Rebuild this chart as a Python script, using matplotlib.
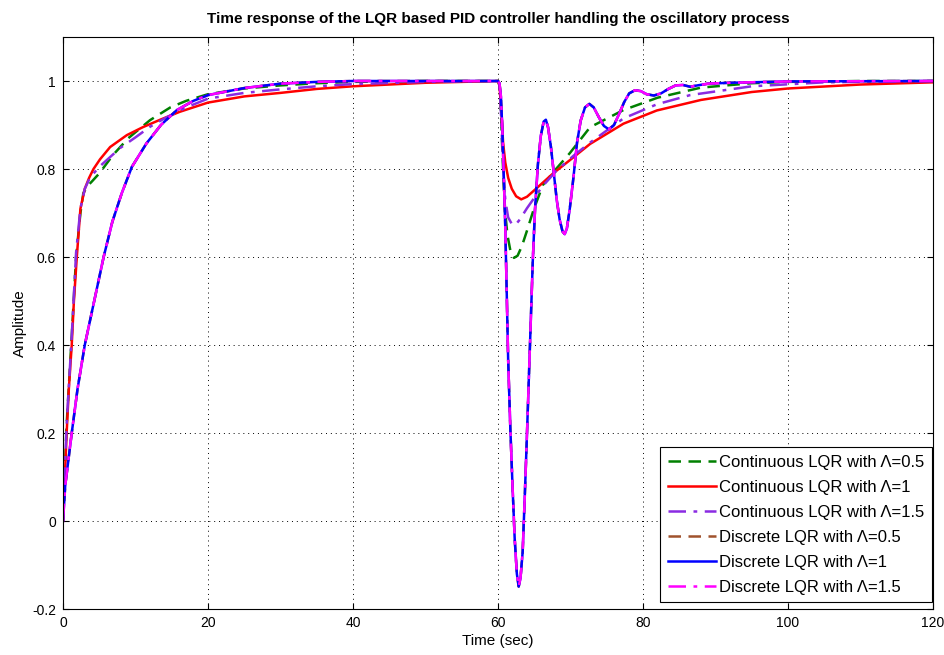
import matplotlib
matplotlib.use("Agg")
import matplotlib.pyplot as plt

plt.rcParams["font.family"] = ["Liberation Sans", "DejaVu Sans"]

# --- values ---

# continuous LQR, Lambda = 0.5 (green dashed)
cont_05_t = [0, 0.2, 0.5, 1.2, 1.8, 2.4, 2.8, 3.3, 4.0, 5.0, 6.9, 9, 12, 14.8, 17, 20, 25, 30, 35, 40, 50,
             60, 60.2, 60.4, 60.6, 60.8, 61.0, 61.3, 61.7, 62.2, 62.7, 63.3, 64.0, 64.9, 66.2, 68, 69.9,
             72.7, 77.3, 82, 88, 95, 100, 110, 120]
cont_05_y = [0, 0.09, 0.22, 0.42, 0.6, 0.70, 0.745, 0.76, 0.772, 0.79, 0.832, 0.87, 0.911, 0.94, 0.955, 0.97,
             0.983, 0.99, 0.995, 0.998, 1.0,
             1.0, 0.99, 0.93, 0.84, 0.76, 0.70, 0.65, 0.615, 0.598, 0.603, 0.625, 0.66, 0.707, 0.764, 0.80,
             0.836, 0.895, 0.934, 0.962, 0.985, 0.995, 0.998, 1.0, 1.0]

# continuous LQR, Lambda = 1 (red solid)
cont_1_t = [0, 0.2, 0.5, 0.8, 1.2, 1.5, 1.9, 2.4, 3.0, 3.6, 4.2, 5.1, 6.5, 8.8, 11, 13.4, 16.1, 20, 25, 30,
            35, 40, 50,
            60, 60.2, 60.5, 60.7, 61.0, 61.4, 61.9, 62.5, 63.2, 64.0, 65.3, 67.6, 69.9, 72.7, 77.3, 81.9,
            88, 95, 100, 110, 120]
cont_1_y = [0, 0.08, 0.2, 0.3, 0.4, 0.5, 0.6, 0.71, 0.755, 0.78, 0.80, 0.822, 0.85, 0.877, 0.895, 0.912,
            0.93, 0.951, 0.965, 0.973, 0.982, 0.988, 0.996,
            1.0, 0.99, 0.92, 0.86, 0.815, 0.78, 0.755, 0.738, 0.731, 0.737, 0.756, 0.79, 0.82, 0.857,
            0.903, 0.933, 0.957, 0.975, 0.983, 0.992, 0.997]

# continuous LQR, Lambda = 1.5 (purple dash-dot)
cont_15_t = [0, 0.2, 0.5, 1.2, 1.8, 2.4, 3.0, 3.7, 5.0, 7.9, 10, 12, 14, 17, 20, 25, 30, 35, 40, 50,
             60, 60.2, 60.4, 60.6, 60.8, 61.0, 61.4, 61.9, 62.4, 63.0, 64.0, 66.1, 68, 70.4, 72.7, 77.3,
             81.9, 86.5, 95, 105, 120]
cont_15_y = [0, 0.09, 0.22, 0.42, 0.61, 0.71, 0.755, 0.78, 0.805, 0.848, 0.872, 0.896, 0.915, 0.94, 0.96,
             0.973, 0.981, 0.988, 0.993, 0.998,
             1.0, 0.99, 0.93, 0.85, 0.78, 0.73, 0.69, 0.675, 0.673, 0.685, 0.711, 0.76, 0.795, 0.83, 0.86,
             0.915, 0.947, 0.968, 0.988, 0.997, 1.0]

# discrete LQR (Lambda = 0.5, 1 and 1.5 lie on top of each other)
disc_t = [0, 0.3, 1.2, 2.0, 3.0, 4.3, 5.6, 6.8, 8.1, 9.5, 11.5, 13.5, 15.7, 18, 20, 25, 30, 35, 40,
          60, 60.2, 60.4, 60.6, 60.8, 61.0, 61.2, 61.4, 61.7, 62.0, 62.3, 62.6, 62.85, 63.1, 63.4, 63.7,
          64.0, 64.4, 64.8, 65.1, 65.5, 65.9, 66.3, 66.6, 66.9, 67.3, 67.7, 68.1, 68.5, 68.9, 69.2, 69.5,
          69.9, 70.4, 70.9, 71.4, 72.0, 72.6, 73.2, 73.9, 74.6, 75.3, 76.0, 76.7, 77.4, 78.1, 78.9, 79.7,
          80.5, 81.5, 82.5, 83.5, 84.5, 85.5, 86.5, 87.5, 89, 92, 100, 120]
disc_y = [0, 0.08, 0.2, 0.3, 0.4, 0.5, 0.6, 0.68, 0.745, 0.805, 0.858, 0.9, 0.934, 0.955, 0.968, 0.984,
          0.994, 0.998, 1.0,
          1.0, 0.995, 0.965, 0.89, 0.78, 0.669, 0.52, 0.366, 0.21, 0.08, -0.04, -0.12, -0.149, -0.13,
          -0.07, 0.06, 0.2, 0.396, 0.593, 0.707, 0.81, 0.875, 0.908, 0.912, 0.895, 0.85, 0.79, 0.73,
          0.685, 0.658, 0.652, 0.665, 0.71, 0.78, 0.86, 0.91, 0.94, 0.948, 0.94, 0.918, 0.898, 0.89,
          0.90, 0.925, 0.952, 0.972, 0.979, 0.977, 0.97, 0.967, 0.972, 0.982, 0.99, 0.991, 0.987, 0.99,
          0.994, 0.996, 0.999, 1.0]

LAMBDA = "\u039b"
series = [
    (cont_05_t, cont_05_y, f"Continuous LQR with {LAMBDA}=0.5", "#008000", (0, (5, 3))),
    (cont_1_t, cont_1_y, f"Continuous LQR with {LAMBDA}=1", "#ff0000", "-"),
    (cont_15_t, cont_15_y, f"Continuous LQR with {LAMBDA}=1.5", "#8a2be2", (0, (7, 3, 1.5, 3))),
    (disc_t, disc_y, f"Discrete LQR with {LAMBDA}=0.5", "#a0522d", (0, (5, 3))),
    (disc_t, disc_y, f"Discrete LQR with {LAMBDA}=1", "#0000ff", "-"),
    (disc_t, disc_y, f"Discrete LQR with {LAMBDA}=1.5", "#ff00ff", (0, (7, 3, 1.5, 3))),
]

fig = plt.figure(figsize=(9.45, 6.55), dpi=100)
ax = fig.add_axes([0.0667, 0.0702, 0.9206, 0.8733])

for t, y, label, color, ls in series:
    ax.plot(t, y, color=color, linestyle=ls, linewidth=1.8, label=label)

ax.set_xlim(0, 120)
ax.set_ylim(-0.2, 1.1)
ax.set_xticks([0, 20, 40, 60, 80, 100, 120])
ax.set_yticks([-0.2, 0, 0.2, 0.4, 0.6, 0.8, 1])
ax.set_yticklabels(["-0.2", "0", "0.2", "0.4", "0.6", "0.8", "1"])
ax.tick_params(direction="in", labelsize=10, length=4, top=True, right=True, pad=5)
ax.grid(True, color="black", linestyle=(0, (1, 4)), linewidth=0.7)
for spine in ax.spines.values():
    spine.set_color("black")
    spine.set_linewidth(0.8)

ax.set_xlabel("Time (sec)", fontsize=11, labelpad=3)
ax.set_ylabel("Amplitude", fontsize=11)
ax.set_title("Time response of the LQR based PID controller handling the oscillatory process",
             fontsize=11, fontweight="bold", pad=10)

leg = ax.legend(loc="lower right", bbox_to_anchor=(1 - 1 / 870, 7 / 572), fontsize=12, fancybox=False,
                framealpha=1, edgecolor="black", borderaxespad=0, handlelength=2.9,
                handletextpad=0.2, labelspacing=0.6, borderpad=0.45)
leg.get_frame().set_linewidth(0.8)

fig.savefig("out.png", dpi=100)
